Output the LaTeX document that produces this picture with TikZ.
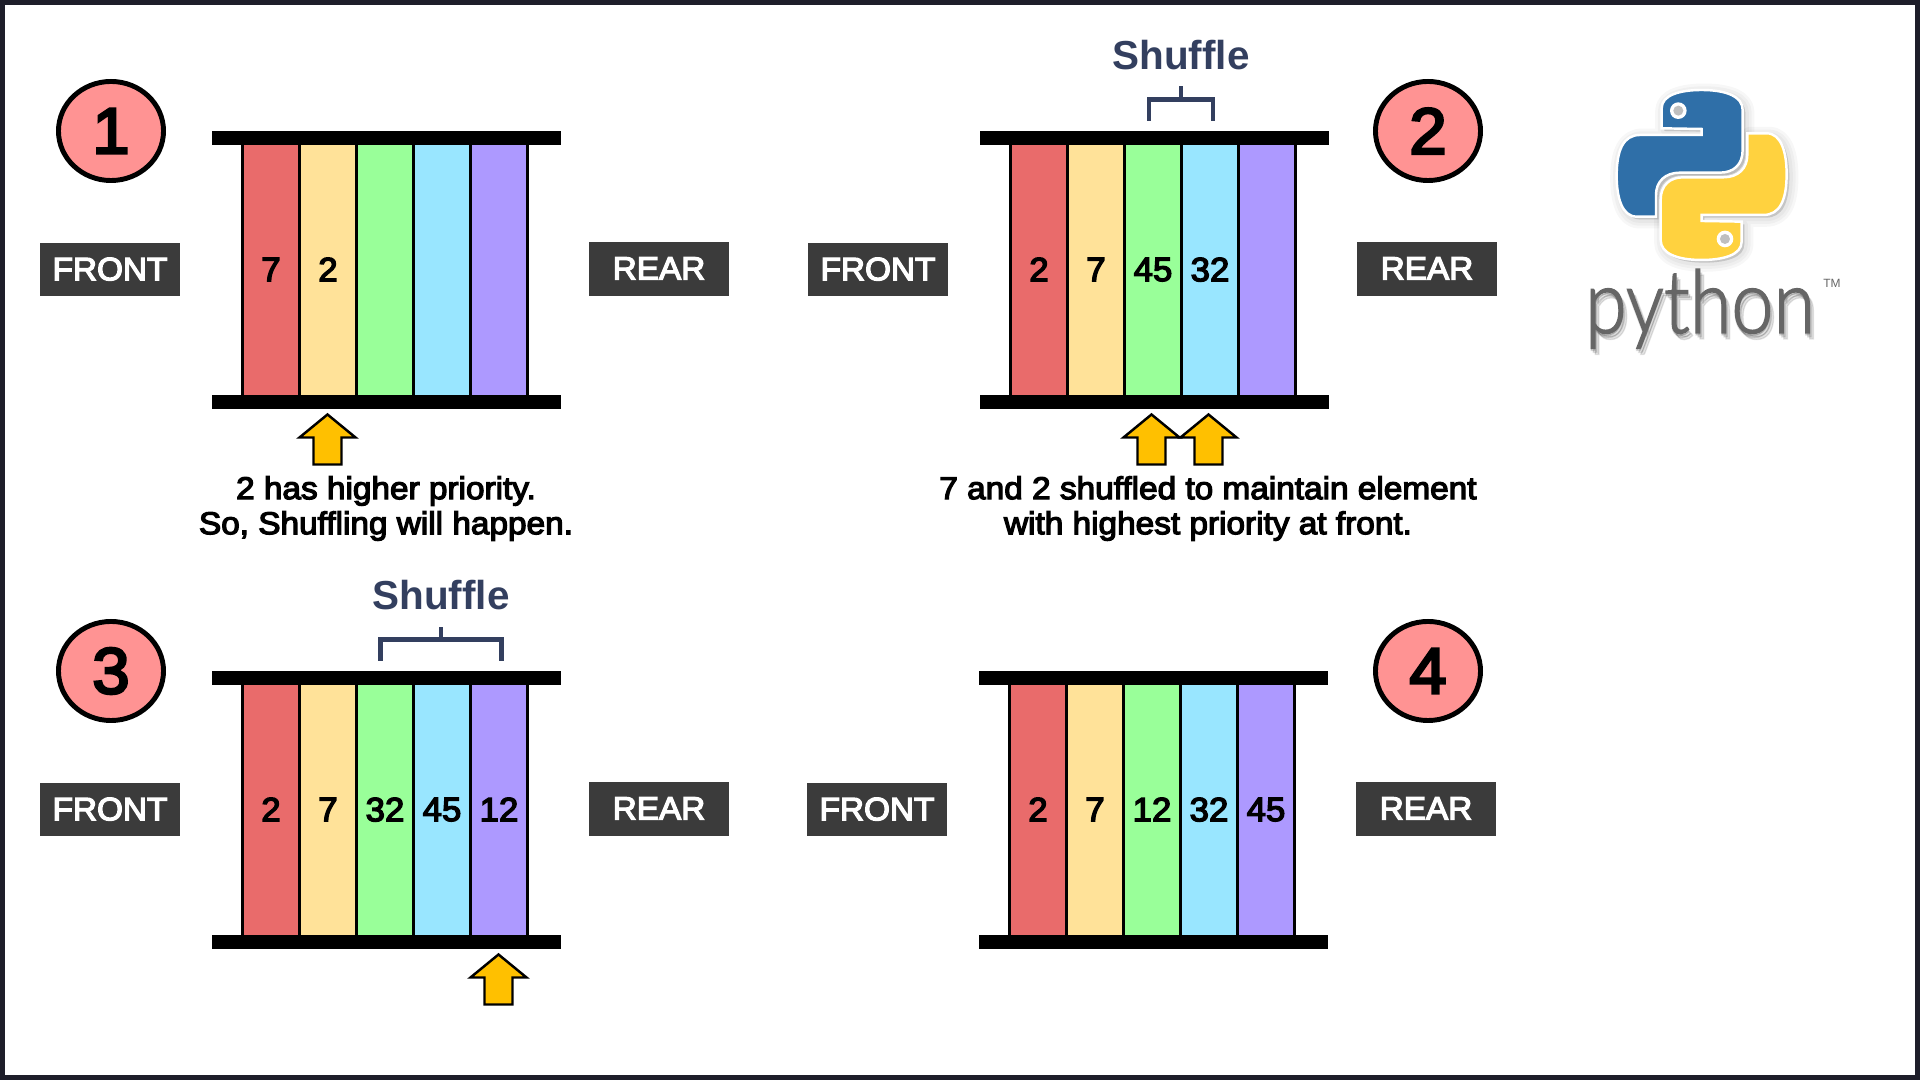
\documentclass[tikz,border=0pt]{standalone}
\usepackage{fontspec}
\setmainfont{Liberation Sans}
\newfontfamily\midfont[FakeBold=4,FakeStretch=1.03]{Liberation Sans}
\newfontfamily\capfont[FakeBold=4,FakeStretch=1.06]{Liberation Sans}
\newfontfamily\logofont[FakeStretch=0.86,FakeBold=1.5]{Lato Light}
\definecolor{framec}{HTML}{1E1E2A}
\definecolor{c1}{HTML}{E96B6B}
\definecolor{c2}{HTML}{FFE299}
\definecolor{c3}{HTML}{99FF99}
\definecolor{c4}{HTML}{99E6FF}
\definecolor{c5}{HTML}{AD99FF}
\definecolor{badge}{HTML}{FF9393}
\definecolor{labelbox}{HTML}{3B3B3B}
\definecolor{arrowfill}{HTML}{FFC000}
\definecolor{shufflec}{HTML}{333F5F}
\definecolor{pyblue}{HTML}{2F6FA8}
\definecolor{pyyellow}{HTML}{FFD23F}
\definecolor{pygray}{HTML}{666666}
\tikzset{
 px/.style={x=0.01cm,y=-0.01cm},
 cellbox/.style={draw=black,line width=1.1pt,minimum width=0.57cm,minimum height=2.55cm,inner sep=0pt,
   font=\fontsize{9.6pt}{11pt}\selectfont\midfont,text=black},
 endbox/.style={fill=labelbox,text=white,minimum width=1.40cm,minimum height=0.53cm,inner sep=0pt,
   font=\fontsize{9.2pt}{11pt}\selectfont\midfont},
 numbadge/.style={ellipse,draw=black,fill=badge,line width=1.4pt,minimum width=1.05cm,minimum height=0.99cm,inner sep=0pt,
   font=\fontsize{18.5pt}{20pt}\selectfont\midfont},
 caption/.style={align=center,font=\fontsize{8.95pt}{9.96pt}\selectfont\capfont,inner sep=0pt},
 shuffletext/.style={text=shufflec,font=\fontsize{11.5pt}{13pt}\selectfont\bfseries,inner sep=0pt},
 bracket/.style={draw=shufflec,line width=1.25pt},
 uparrow/.style={fill=arrowfill,draw=black,line width=0.7pt,miter limit=10},
}
\usetikzlibrary{shapes.geometric}
\newcommand{\qup}[1]{\raisebox{0.3pt}{#1}}
\newcommand{\qpanel}[8]{%
 \begin{scope}[shift={(#2,#3)}]
  \node[cellbox,fill=c1] (#1c1) at (271,270) {\qup{#4}};
  \node[cellbox,fill=c2] (#1c2) at (328,270) {\qup{#5}};
  \node[cellbox,fill=c3] (#1c3) at (385,270) {\qup{#6}};
  \node[cellbox,fill=c4] (#1c4) at (442,270) {\qup{#7}};
  \node[cellbox,fill=c5] (#1c5) at (499,270) {\qup{#8}};
  \fill[black] (212,131) rectangle (561,145);
  \fill[black] (212,395) rectangle (561,409);
  \node[endbox] (#1front) at (110,269.5) {\qup{FRONT}};
  \node[endbox] (#1rear) at (659,269) {\qup{REAR}};
 \end{scope}}
\newcommand{\qarrow}[2]{%
 \path[uparrow] (#1,#2) -- ++(28,23) -- ++(-14,0) -- ++(0,27) -- ++(-28,0) -- ++(0,-27) -- ++(-14,0) -- cycle;}
\newcommand{\qbracket}[5]{%
 \draw[bracket] (#1,#4) -- (#1,#3) -- (#2,#3) -- (#2,#4);
 \draw[bracket] ({(#1+#2)/2},#3) -- ({(#1+#2)/2},#5);}
\begin{document}
\begin{tikzpicture}[px]
\useasboundingbox (0,0) rectangle (1920,1080);
\fill[white] (0,0) rectangle (1920,1080);
\draw[framec,line width=1.4pt] (2.5,2.5) rectangle (1917.5,1077.5);

\qpanel{a}{0}{0}{7}{2}{}{}{}
\qpanel{b}{768}{0}{2}{7}{45}{32}{}
\qpanel{d}{0}{540}{2}{7}{32}{45}{12}
\qpanel{e}{767}{540}{2}{7}{12}{32}{45}

\node[numbadge] (n1) at (111,131) {1};
\node[numbadge] (n2) at (1428,131) {2};
\node[numbadge] (n3) at (111,671) {3};
\node[numbadge] (n4) at (1428,671) {4};

\qarrow{327.5}{414.5}
\qarrow{1151.5}{414.5}
\qarrow{1208.5}{414.5}
\qarrow{498.5}{954.5}

\node[caption] (cap1) at (386,508.5) {2 has higher priority.\\So, Shuffling will happen.};
\node[caption] (cap2) at (1208,508.5) {7 and 2 shuffled to maintain element\\with highest priority at front.};

\qbracket{1149}{1213}{99.5}{121}{86}
\qbracket{380.5}{501.5}{639.5}{661}{627}
\node[shuffletext,anchor=base] (s1) at (1181,70) {Shuffle};
\node[shuffletext,anchor=base] (s2) at (441,610) {Shuffle};

% python logo
\begin{scope}[shift={(1520,60)},scale=0.3333]
 \def\snake{(425,205) -- (425,145) .. controls (425,105) and (480,90) .. (545,90)
   .. controls (620,90) and (668,110) .. (668,150) -- (668,270)
   .. controls (668,315) and (640,338) .. (600,338) -- (480,338)
   .. controls (435,338) and (408,365) .. (408,405) -- (408,470) -- (350,470)
   .. controls (305,470) and (290,410) .. (290,348)
   .. controls (290,270) and (310,225) .. (360,225) -- (545,225) -- (545,207) -- cycle}
 \foreach \w in {26,18,10}{
  \fill[black,opacity=0.05,line join=round] [shift={(8,8)}] \snake;
  \draw[black,opacity=0.03,line width=\w*0.2pt,line join=round] [shift={(8,8)}] \snake;
  \begin{scope}[rotate around={180:(545,345)}]
   \fill[black,opacity=0.05] [shift={(-8,-8)}] \snake;
   \draw[black,opacity=0.03,line width=\w*0.2pt,line join=round] [shift={(-8,-8)}] \snake;
  \end{scope}
 }
 \fill[pyblue,draw=white,line width=0.7pt] \snake;
 \begin{scope}[rotate around={180:(545,345)}]
  \fill[pyyellow,draw=white,line width=0.7pt] \snake;
 \end{scope}
 \fill[white] (475,152) circle (25);
 \fill[black!25] (475,152) circle (15);
 \fill[white] (615,537) circle (25);
 \fill[black!25] (615,537) circle (15);
\end{scope}
\foreach \o/\d in {0.10/6,0.10/4,0.12/2}{
 \node[text=black,opacity=\o,font=\logofont\fontsize{25pt}{28pt}\selectfont,inner sep=0pt,anchor=base] at ({1700+\d-2},{333+\d}) {python};
}
\node[text=pygray,font=\logofont\fontsize{25pt}{28pt}\selectfont,inner sep=0pt,anchor=base] (pyword) at (1700,333) {python};
\node[text=pygray,font=\fontsize{3.4pt}{4pt}\selectfont,inner sep=0pt] (tm) at (1832,283) {TM};
\end{tikzpicture}
\end{document}
